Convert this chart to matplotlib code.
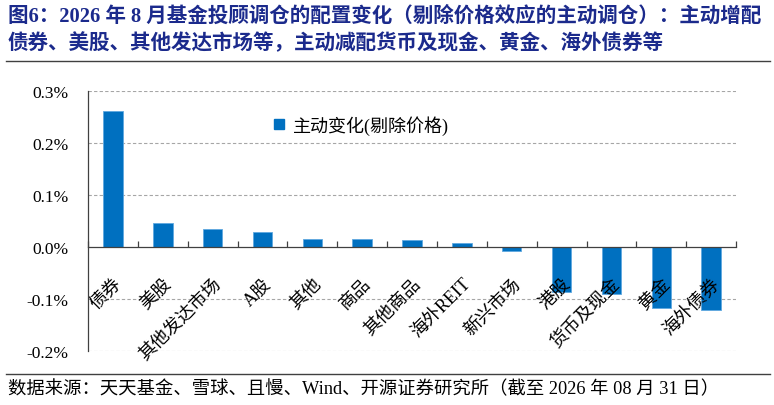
import matplotlib
matplotlib.use("Agg")
from matplotlib import pyplot as plt
from matplotlib.lines import Line2D
import numpy as np

plt.rcParams['font.family'] = ['Liberation Serif', 'Noto Sans CJK SC']

categories = ['债券', '美股', '其他发达市场', 'A股', '其他', '商品', '其他商品',
              '海外REIT', '新兴市场', '港股', '货币及现金', '黄金', '海外债券']
values = [0.262, 0.047, 0.035, 0.028, 0.016, 0.015, 0.014,
          0.007, -0.007, -0.087, -0.090, -0.118, -0.122]
y_ticks = [-0.2, -0.1, 0.0, 0.1, 0.2, 0.3]
y_labels = ['-0.2%', '-0.1%', '0.0%', '0.1%', '0.2%', '0.3%']

title_1 = '图6：2026 年 8 月基金投顾调仓的配置变化（剔除价格效应的主动调仓）：主动增配'
title_2 = '债券、美股、其他发达市场等，主动减配货币及现金、黄金、海外债券等'
source = '数据来源：天天基金、雪球、且慢、Wind、开源证券研究所（截至 2026 年 08 月 31 日）'

bar_color = '#0070C0'
title_color = '#1B2A8C'

fig = plt.figure(figsize=(7.74, 4.06), dpi=100)
ax = fig.add_axes([0.1137, 0.133, 0.8373, 0.6404])
ax.set_axisbelow('line')

x = np.arange(len(categories))
ax.bar(x, values, width=0.39, color=bar_color, edgecolor='#5FA8E0',
       linewidth=0.6, label='主动变化(剔除价格)', zorder=1)

ax.set_xlim(-0.5, len(categories) - 0.5)
ax.set_ylim(-0.2, 0.3)
ax.set_yticks(y_ticks)
ax.set_yticklabels(y_labels, fontsize=12.5)
ax.tick_params(axis='y', length=0, pad=14)

for yv in y_ticks:
    if yv != 0.0:
        ax.axhline(yv, color='#A6A6A6', linestyle=(0, (3, 2)), linewidth=0.8, zorder=0.5)

for s in ['top', 'right']:
    ax.spines[s].set_visible(False)
ax.spines['left'].set_color('#404040')
ax.spines['left'].set_linewidth(0.9)
ax.spines['bottom'].set_position(('data', 0))
ax.spines['bottom'].set_color('#404040')
ax.spines['bottom'].set_linewidth(0.9)

ax.set_xticks(x)
ax.set_xticklabels(categories, rotation=45, ha='right', rotation_mode='anchor',
                   fontsize=13)
ax.tick_params(axis='x', which='major', length=0, pad=20)
ax.set_xticks(np.arange(len(categories) + 1) - 0.5, minor=True)
ax.tick_params(axis='x', which='minor', direction='in', length=4,
               width=0.9, color='#404040')

handle = Line2D([], [], marker='s', color=bar_color, linestyle='none', markersize=7)
ax.legend([handle], ['主动变化(剔除价格)'], loc='center left',
          bbox_to_anchor=(0.255, 0.87), frameon=False, fontsize=13,
          handletextpad=0.3, handlelength=1.0)

fig.text(0.01, 0.960, title_1, fontsize=14.8, fontweight='bold', color=title_color,
         va='center', ha='left')
fig.text(0.01, 0.892, title_2, fontsize=14.8, fontweight='bold', color=title_color,
         va='center', ha='left')
fig.add_artist(Line2D([0.008, 0.995], [0.847, 0.847], color='#404040', linewidth=1.0))
fig.add_artist(Line2D([0.008, 0.995], [0.076, 0.076], color='#404040', linewidth=1.0))
fig.text(0.01, 0.040, source, fontsize=13.2, va='center', ha='left')

fig.savefig('out.png', dpi=100)
